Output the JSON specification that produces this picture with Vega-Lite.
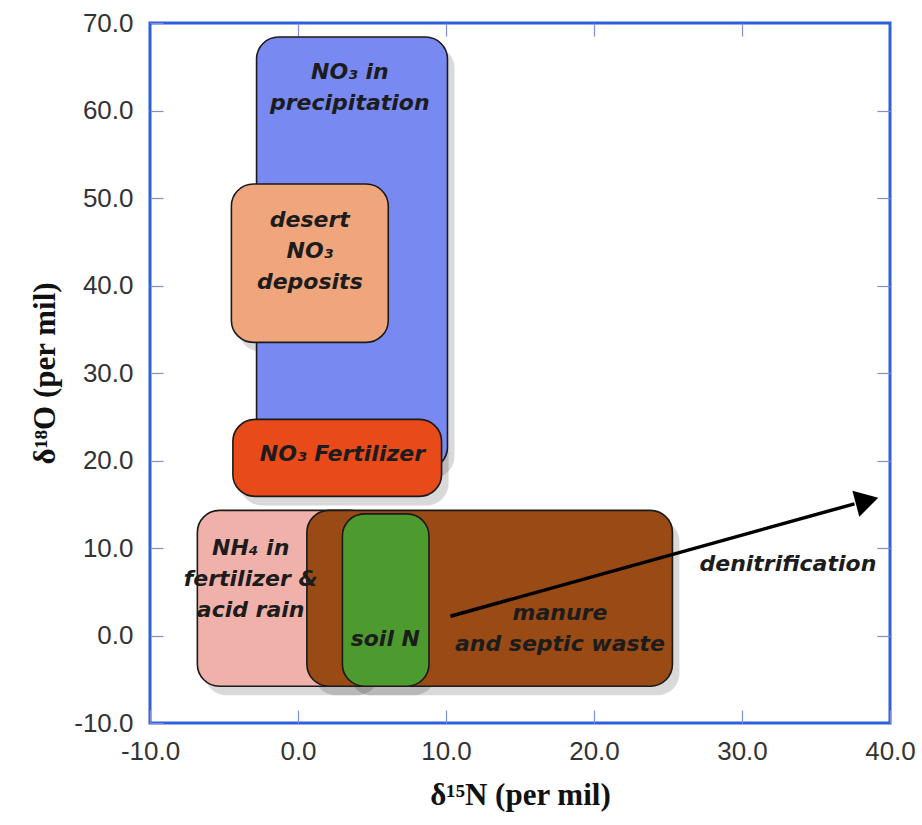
{
  "$schema": "https://vega.github.io/schema/vega-lite/v6.json",
  "width": 740,
  "height": 700,
  "autosize": {"type": "none"},
  "padding": {"left": 150, "top": 23, "right": 32, "bottom": 102},
  "background": "white",
  "config": {
    "view": {"stroke": "#2e5fdc", "strokeWidth": 3},
    "axis": {
      "domain": false,
      "grid": false,
      "tickSize": -13,
      "tickColor": "#7d8fd6",
      "tickWidth": 1.2,
      "labelFont": "Liberation Sans",
      "labelFontSize": 26,
      "labelColor": "#333333",
      "labelFlush": false,
      "labelOverlap": false,
      "labelExpr": "replace(format(datum.value, '.1f'), '−', '-')",
      "titleFont": "Liberation Serif",
      "titleFontSize": 31,
      "titleFontWeight": "bold",
      "titleColor": "#111111"
    }
  },
  "datasets": {
    "boxes": [
      {"name": "precip", "x1": -2.8, "x2": 10.1, "y1": 19.0, "y2": 68.4},
      {"name": "desert", "x1": -4.5, "x2": 6.1, "y1": 33.5, "y2": 51.6},
      {"name": "fert", "x1": -4.4, "x2": 9.7, "y1": 15.9, "y2": 24.7},
      {"name": "nh4", "x1": -6.8, "x2": 5.0, "y1": -5.8, "y2": 14.3},
      {"name": "manure", "x1": 0.6, "x2": 25.3, "y1": -5.8, "y2": 14.3},
      {"name": "soil", "x1": 3.0, "x2": 8.85, "y1": -5.8, "y2": 13.9}
    ],
    "labels": [
      {"label": "NO₃ in|precipitation", "x": 3.5, "y": 64.4},
      {"label": "desert|NO₃|deposits", "x": 0.8, "y": 47.5},
      {"label": "NO₃ Fertilizer", "x": 3.0, "y": 20.8},
      {"label": "NH₄ in|fertilizer &|acid rain", "x": -3.2, "y": 10.0},
      {"label": "soil N", "x": 5.9, "y": -0.4},
      {"label": "manure|and septic waste", "x": 17.7, "y": 2.6},
      {"label": "denitrification", "x": 33.1, "y": 8.2}
    ],
    "arrow": [
      {"x": 10.3, "y": 2.2},
      {"x": 37.6, "y": 15.05}
    ],
    "head": [
      {"x": 38.45, "y": 15.4}
    ]
  },
  "resolve": {"axis": {"x": "independent", "y": "independent"}},
  "layer": [
    {
      "data": {"name": "boxes"},
      "mark": {"type": "rect", "cornerRadius": 22, "fill": "#000000", "opacity": 0.15, "xOffset": 7, "x2Offset": 7, "yOffset": 9, "y2Offset": 9},
      "encoding": {
        "x": {"field": "x1", "type": "quantitative", "scale": {"domain": [-10, 40], "nice": false, "zero": false},
          "axis": {"orient": "bottom", "values": [-10, 0, 10, 20, 30, 40], "labelPadding": 28, "title": "δ¹⁵N (per mil)", "titlePadding": 16}},
        "x2": {"field": "x2"},
        "y": {"field": "y1", "type": "quantitative", "scale": {"domain": [-10, 70], "nice": false, "zero": false},
          "axis": {"orient": "left", "values": [-10, 0, 10, 20, 30, 40, 50, 60, 70], "labelPadding": 30, "title": "δ¹⁸O (per mil)", "titlePadding": 12}},
        "y2": {"field": "y2"}
      }
    },
    {
      "data": {"name": "boxes"},
      "mark": {"type": "rect", "cornerRadius": 22, "stroke": "#1a1a1a", "strokeWidth": 1.6},
      "encoding": {
        "x": {"field": "x1", "type": "quantitative", "scale": {"domain": [-10, 40], "nice": false, "zero": false},
          "axis": {"orient": "top", "values": [0, 10, 20, 30], "labels": false, "title": null}},
        "x2": {"field": "x2"},
        "y": {"field": "y1", "type": "quantitative", "scale": {"domain": [-10, 70], "nice": false, "zero": false},
          "axis": {"orient": "right", "values": [0, 10, 20, 30, 40, 50, 60], "labels": false, "title": null}},
        "y2": {"field": "y2"},
        "color": {"field": "name", "type": "nominal", "legend": null,
          "scale": {"domain": ["precip", "desert", "fert", "nh4", "manure", "soil"],
                    "range": ["#7889f2", "#f0a67c", "#e84a1a", "#f0b1aa", "#9a4a14", "#4d9a2f"]}},
        "fillOpacity": {"value": 1}
      }
    },
    {
      "data": {"name": "arrow"},
      "mark": {"type": "line", "color": "#000000", "strokeWidth": 3.5},
      "encoding": {
        "x": {"field": "x", "type": "quantitative", "axis": null},
        "y": {"field": "y", "type": "quantitative", "axis": null}
      }
    },
    {
      "data": {"name": "head"},
      "mark": {"type": "point", "shape": "triangle-right", "filled": true, "color": "#000000", "opacity": 1, "size": 720, "angle": 345},
      "encoding": {
        "x": {"field": "x", "type": "quantitative", "axis": null},
        "y": {"field": "y", "type": "quantitative", "axis": null}
      }
    },
    {
      "data": {"name": "labels"},
      "mark": {"type": "text", "font": "DejaVu Sans", "fontStyle": "italic", "fontWeight": "bold", "fontSize": 22, "lineBreak": "|", "lineHeight": 31, "color": "#1c1c1c", "align": "center", "baseline": "middle"},
      "encoding": {
        "x": {"field": "x", "type": "quantitative", "axis": null},
        "y": {"field": "y", "type": "quantitative", "axis": null},
        "text": {"field": "label", "type": "nominal"}
      }
    }
  ]
}
